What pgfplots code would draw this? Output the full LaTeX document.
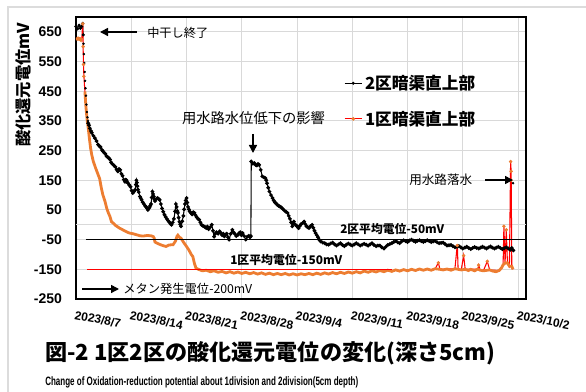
\documentclass[border=0pt]{standalone}
\usepackage{pgfplots}
\pgfplotsset{compat=1.18}
\usepackage{fontspec}
\setmainfont{Liberation Sans}
\newfontfamily\jp{Noto Sans CJK JP}
\usetikzlibrary{arrows.meta}
\definecolor{xlor}{HTML}{ED7D31}
\definecolor{gridc}{HTML}{D9D9D9}
\definecolor{framec}{HTML}{DCDCDC}
\begin{document}
\begin{tikzpicture}
\path[use as bounding box] (0,0) rectangle (439.5pt,-294pt);
\begin{axis}[at={(57pt,-224.25pt)}, anchor=south west, scale only axis,
  width=337.5pt, height=211.5pt,
  xmin=0, xmax=57, ymin=-250, ymax=700,
  xtick={0,7,14,21,28,35,42,49,56},
  xticklabels={2023/8/7,2023/8/14,2023/8/21,2023/8/28,2023/9/4,2023/9/11,2023/9/18,2023/9/25,2023/10/2},
  ytick={-250,-150,-50,50,150,250,350,450,550,650},
  yticklabels={-250,-150,-50,50,150,250,350,450,550,650},
  grid=major, major grid style={gridc, line width=0.75pt},
  axis line style={line width=1.1pt},
  major tick length=0pt,
  yticklabel style={font=\bfseries\fontsize{10.5pt}{12pt}\selectfont, xshift=-7pt},
  xticklabel style={font=\bfseries\fontsize{9pt}{11pt}\selectfont, rotate=-11, anchor=north west, xshift=-2pt, yshift=-5pt},
  legend style={at={(rel axis cs:0.595,0.702)}, anchor=west, draw=none, fill=none, inner sep=0pt, row sep=10.5pt,
    font={\jp\bfseries\fontsize{12.5pt}{14pt}\selectfont}},
  legend cell align=left,
  legend image code/.code={\draw[mark repeat=2,mark phase=2,#1] plot coordinates {(0pt,0pt) (6.5pt,0pt) (13pt,0pt)};},
]
\addlegendimage{black, line width=0.6pt, mark=*, mark size=0.8pt}
\addlegendentry{2区暗渠直上部}
\addlegendimage{red, line width=0.8pt, mark=*, mark size=0.9pt, mark options={fill=xlor, draw=xlor}}
\addlegendentry{1区暗渠直上部}
% axis line at 0
\addplot[gridc, line width=0.75pt, forget plot] coordinates {(0,0) (57,0)};
% ---- 2区 (black) ----
\addplot[black, line width=0.6pt, mark=*, mark size=0.9pt, forget plot] coordinates {
(0.0,668) (0.2,660) (0.4,672) (0.55,662) (0.7,668) (0.85,678) (0.92,640)};
\addplot[black, only marks, mark=*, mark size=0.7pt, forget plot] coordinates {
(0.95,610) (1.0,575) (1.05,545) (1.1,515) (1.15,485) (1.2,460) (1.26,435) (1.32,405) (1.38,380) (1.45,362) (1.5,350)};
\addplot[black, line width=0.8pt, mark=*, mark size=1pt, forget plot] coordinates {
(1.55,342) (1.65,335) (1.75,325) (1.9,316) (2.0,310) (2.2,300) (2.4,292) (2.6,282) (2.8,270) (3.0,264) (3.1,262)
(3.3,252) (3.4,248) (3.55,243) (3.7,240) (3.85,232) (4.0,228) (4.15,225) (4.3,220) (4.45,210) (4.6,205) (4.8,200)
(5.0,195) (5.15,186) (5.3,180) (5.45,188) (5.6,185) (5.75,172) (5.9,165) (6.05,152) (6.2,145) (6.3,152) (6.4,150)
(6.5,143) (6.6,140) (6.75,134) (6.9,128) (7.05,115) (7.2,107) (7.35,112) (7.5,118) (7.58,135) (7.65,150) (7.72,142) (7.78,130)
(7.85,118) (7.95,110) (8.1,95) (8.2,90) (8.3,84) (8.45,76) (8.6,70) (8.75,64) (8.9,60) (9.0,55) (9.1,50) (9.2,54)
(9.3,58) (9.4,64) (9.5,70) (9.6,92) (9.68,112) (9.76,104) (9.85,95) (9.95,86) (10.0,80) (10.15,86) (10.3,90)
(10.45,88) (10.6,84) (10.75,70) (10.9,55) (11.05,44) (11.2,34) (11.35,27) (11.5,20) (11.65,14) (11.8,10) (11.95,4)
(12.1,0) (12.25,8) (12.4,20) (12.55,45) (12.65,70) (12.75,60) (12.85,46) (12.9,40) (13.0,24) (13.1,10) (13.2,2)
(13.3,-5) (13.45,12) (13.6,30) (13.7,52) (13.8,70) (13.9,82) (14.0,90) (14.1,75) (14.2,60) (14.3,52) (14.4,45)
(14.55,40) (14.7,35) (14.85,42) (15.0,40) (15.15,32) (15.3,25) (15.45,20) (15.6,17) (15.75,8) (15.9,0) (16.05,-3)
(16.2,-5) (16.35,-8) (16.5,-11) (16.65,-6) (16.8,-15) (17.0,-8) (17.2,0) (17.35,-20) (17.5,-40) (17.65,-30) (17.8,-25)
(18.0,-30) (18.2,-22) (18.35,-28) (18.5,-35) (18.65,-30) (18.8,-39) (18.95,-33) (19.1,-30) (19.25,-42) (19.4,-50)
(19.6,-30) (19.8,-17) (19.95,-25) (20.1,-30) (20.3,-38) (20.5,-34) (20.65,-28) (20.8,-25) (20.95,-35) (21.1,-28)
(21.3,-38) (21.5,-50) (21.7,-40) (21.9,-37) (22.05,-42) (22.15,-38)
(22.2,213) (22.4,206) (22.6,208) (22.75,202) (22.9,200) (23.05,205) (23.2,202) (23.4,185) (23.6,163) (23.8,160)
(24.0,157) (24.1,150) (24.2,140) (24.35,125) (24.5,112) (24.7,100) (24.9,90) (25.05,82) (25.2,75) (25.35,72) (25.5,67)
(25.65,64) (25.8,62) (25.95,60) (26.1,56) (26.25,52) (26.4,48) (26.6,44) (26.8,40) (26.95,30) (27.1,20) (27.25,8)
(27.4,-5) (27.5,4) (27.6,11) (27.8,0) (28.0,-5) (28.1,-8) (28.2,-11) (28.35,-4) (28.5,2) (28.7,6) (28.9,11)
(29.05,2) (29.2,-5) (29.35,-8) (29.5,-11) (29.7,-5) (29.9,0) (30.05,-10) (30.2,-20) (30.35,-28) (30.5,-35) (30.65,-42)
(30.8,-50) (31.0,-56) (31.25,-60) (31.5,-62) (31.75,-66) (32.0,-67) (32.25,-63) (32.5,-60) (32.75,-66) (33.0,-70)
(33.25,-66) (33.5,-62) (33.75,-68) (34.0,-72) (34.25,-67) (34.5,-63) (34.75,-67) (35.0,-70) (35.25,-66) (35.5,-62)
(35.75,-66) (36.0,-70) (36.25,-67) (36.5,-64) (36.75,-67) (37.0,-70) (37.25,-66) (37.5,-62) (37.75,-68) (38.0,-72)
(38.25,-70) (38.5,-70) (38.75,-76) (39.0,-80) (39.25,-74) (39.5,-68) (39.75,-65) (40.0,-62) (40.25,-58) (40.5,-55)
(40.75,-59) (41.0,-62) (41.25,-56) (41.5,-52) (41.75,-55) (42.0,-58) (42.25,-53) (42.5,-50) (42.75,-54) (43.0,-57)
(43.25,-54) (43.5,-52) (43.75,-55) (44.0,-58) (44.25,-55) (44.5,-52) (44.75,-55) (45.0,-58) (45.25,-56) (45.5,-55)
(45.75,-59) (46.0,-62) (46.25,-61) (46.5,-60) (46.75,-65) (47.0,-70) (47.25,-69) (47.5,-68) (47.75,-72) (48.0,-76)
(48.25,-74) (48.5,-72) (48.75,-76) (49.0,-80) (49.25,-77) (49.5,-74) (49.75,-78) (50.0,-82) (50.25,-78) (50.5,-75)
(50.75,-78) (51.0,-80) (51.25,-77) (51.5,-74) (51.75,-77) (52.0,-80) (52.25,-76) (52.5,-73) (52.75,-77) (53.0,-80)
(53.25,-77) (53.5,-74) (53.75,-78) (54.0,-82) (54.25,-79) (54.5,-76) (54.75,-80) (55.0,-84) (55.2,-78) (55.4,-86)};
\addplot[black, only marks, mark=*, mark size=0.7pt, forget plot] coordinates {(55.36,140)};
% ---- 1区 (red line, orange markers) ----
\addplot[red, line width=0.8pt, forget plot] coordinates {
(0.0,630) (0.2,625) (0.4,628) (0.6,622) (0.75,630) (0.82,668) (0.86,677) (0.9,600) (0.95,540) (1.0,500) (1.13,449)
(1.25,400) (1.35,370) (1.45,345) (1.55,326) (1.7,290) (1.85,258) (2.0,235)};
\addplot[red, line width=0.8pt, forget plot] coordinates {
(45.5,-148) (45.9,-128) (46.1,-150) (48.0,-148) (48.3,-65) (48.4,-150) (48.8,-152) (49.1,-104) (49.3,-150)
(50.9,-149) (51.0,-136) (51.2,-153) (51.6,-155) (52.1,-123) (52.4,-152) (53.6,-154) (53.9,-145) (54.1,-135)
(54.2,-5) (54.35,-129) (54.5,-17) (54.65,-128) (54.9,-140) (55.05,213) (55.12,180) (55.2,-140) (55.35,-150)};
\addplot[xlor, line width=2.1pt, forget plot] coordinates {
(0.0,630) (0.1,626) (0.2,625) (0.3,629) (0.4,628) (0.5,624) (0.6,622) (0.7,628) (0.75,630)};
\addplot[xlor, only marks, mark=*, mark size=1.1pt, forget plot] coordinates {
(0.86,677) (0.9,600) (0.95,540) (1.0,500)};
\addplot[xlor, line width=2.1pt, forget plot] coordinates {
(1.13,449) (1.25,400) (1.35,370) (1.45,345) (1.55,326) (1.7,290) (1.85,258) (2.0,235) (2.2,213) (2.5,190)
(2.8,169) (3.0,155) (3.2,125) (3.4,101) (3.66,80) (3.9,55) (4.1,40) (4.3,28) (4.5,10) (4.7,6) (5.0,-2)
(5.5,-11) (6.0,-18) (6.5,-25) (6.8,-28) (7.2,-30) (7.6,-33) (8.1,-37) (8.5,-38) (9.0,-36) (9.5,-37) (9.8,-40)
(9.9,-45) (10.0,-58) (10.2,-61) (10.6,-66) (11.0,-70) (11.4,-73) (11.8,-68) (12.3,-67) (12.6,-55) (12.8,-38)
(12.9,-35) (13.1,-42) (13.3,-45) (13.6,-58) (14.0,-73) (14.3,-85) (14.6,-100) (14.8,-107) (15.0,-130) (15.2,-146)
(15.5,-150) (16,-155) (16.5,-153) (17,-158) (17.5,-155) (18,-160) (18.5,-157) (19,-162) (19.5,-158) (20,-163)
(20.5,-159) (21,-164) (21.5,-160) (22,-165) (22.5,-161) (23,-166) (23.5,-162) (24,-167) (24.5,-163) (25,-168)
(25.5,-164) (26,-168) (26.5,-164) (27,-169) (27.5,-165) (28,-169) (28.5,-165) (29,-168) (29.5,-164) (30,-168)
(30.5,-163) (31,-167) (31.5,-162) (32,-166) (32.5,-161) (33,-165) (33.5,-160) (34,-164) (34.5,-159) (35,-163)
(35.5,-158) (36,-162) (36.5,-156) (37,-160) (37.5,-155) (38,-159) (38.5,-154) (39,-158) (39.5,-153) (40,-157)
(40.5,-152) (41,-156) (41.5,-151) (42,-155) (42.5,-150) (43,-154) (43.5,-149) (44,-153) (44.5,-149) (45,-153)
(45.5,-148) (46.1,-150) (46.5,-152) (47,-149) (47.5,-153) (48,-148) (48.4,-150) (48.8,-152) (49.3,-150)
(49.7,-154) (50,-150) (50.5,-155) (50.9,-149) (51.2,-153) (51.6,-155) (52.4,-152) (52.8,-156) (53.2,-158)
(53.6,-154) (53.9,-145) (54.1,-135) (54.35,-129) (54.65,-128) (54.9,-140) (55.2,-140) (55.35,-150)};
\addplot[xlor, only marks, mark=*, mark size=1.1pt, forget plot] coordinates {
(45.9,-128) (48.3,-70) (49.1,-104) (51.0,-136) (52.1,-123) (54.2,-5) (54.5,-17) (55.05,213) (55.12,180) (55.1,150)};
% ---- average lines ----
\addplot[black, line width=0.8pt, forget plot] coordinates {(1.26,-50) (57,-50)};
\addplot[red, line width=0.9pt, forget plot] coordinates {(1.4,-150) (40,-150)};
\end{axis}
\begin{scope}[x=0.75pt, y=-0.75pt]
\draw[framec, line width=0.8pt] (8,392) -- (8,7) -- (586,7);
% y label
\node[rotate=90, inner sep=0pt] at (23.5,85) {\resizebox{93pt}{!}{\jp\bfseries 酸化還元電位mV}};
% annotations
\draw[-{Triangle[length=6pt,width=6pt]}, line width=1.1pt] (137,32) -- (100,32);
\node[anchor=west, inner sep=0pt] at (147,33) {\resizebox{45.75pt}{!}{\jp 中干し終了}};
\node[inner sep=0pt] at (253.5,118) {\resizebox{107.25pt}{!}{\jp 用水路水位低下の影響}};
\draw[-{Triangle[length=6pt,width=6pt]}, line width=1.1pt] (253,134) -- (253,153);
\node[anchor=west, inner sep=0pt] at (409,180) {\resizebox{47.25pt}{!}{\jp 用水路落水}};
\draw[-{Triangle[length=6pt,width=6pt]}, line width=1.1pt] (485,180) -- (513,180);
\node[anchor=west, inner sep=0pt] at (340,229) {\resizebox{78pt}{!}{\jp\bfseries 2区平均電位-50mV}};
\node[anchor=west, inner sep=0pt] at (230,260) {\resizebox{84pt}{!}{\jp\bfseries 1区平均電位-150mV}};
\draw[-{Triangle[length=6pt,width=6pt]}, line width=1.1pt] (82,289) -- (119,289);
\node[anchor=west, inner sep=0pt] at (123,289) {\resizebox{96.75pt}{!}{\jp メタン発生電位-200mV}};
% title
\node[anchor=west, inner sep=0pt] at (45,353.5) {\resizebox{337.5pt}{!}{\jp\bfseries 図-2 1区2区の酸化還元電位の変化(深さ5cm)}};
\node[anchor=west, inner sep=0pt] at (45,382) {\resizebox{234.75pt}{6.6pt}{\bfseries Change of Oxidation-reduction potential about 1division and 2division(5cm depth)}};
\end{scope}
\end{tikzpicture}
\end{document}
